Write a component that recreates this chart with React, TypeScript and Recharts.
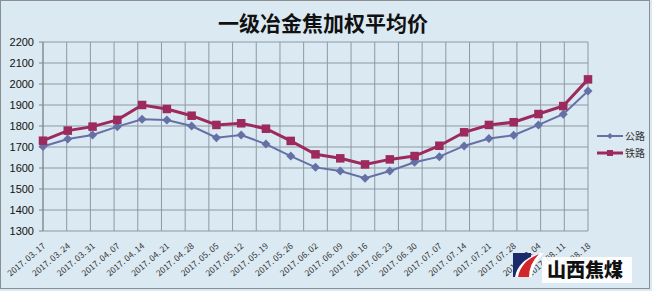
import React from 'react'
import { LineChart, Line, XAxis, YAxis, CartesianGrid } from 'recharts'

const categories = [
  '2017. 03. 17', '2017. 03. 24', '2017. 03. 31', '2017. 04. 07', '2017. 04. 14',
  '2017. 04. 21', '2017. 04. 28', '2017. 05. 05', '2017. 05. 12', '2017. 05. 19',
  '2017. 05. 26', '2017. 06. 02', '2017. 06. 09', '2017. 06. 16', '2017. 06. 23',
  '2017. 06. 30', '2017. 07. 07', '2017. 07. 14', '2017. 07. 21', '2017. 07. 28',
  '2017. 08. 04', '2017. 08. 11', '2017. 08. 18',
]

// 公路
const highway = [
  1702, 1738, 1757, 1797, 1832, 1829, 1800, 1744, 1757, 1714, 1657, 1603,
  1586, 1551, 1586, 1627, 1654, 1705, 1740, 1756, 1805, 1856, 1967,
]

// 铁路
const railway = [
  1730, 1778, 1797, 1829, 1900, 1881, 1849, 1805, 1813, 1787, 1729, 1665,
  1646, 1617, 1641, 1657, 1706, 1770, 1805, 1818, 1857, 1895, 2022,
]

const yTicks = [1300, 1400, 1500, 1600, 1700, 1800, 1900, 2000, 2100, 2200]

const legendItems = [
  { label: '公路', kind: 'diamond' },
  { label: '铁路', kind: 'square' },
]

const BLUE = '#6570a6'
const RED = '#9c2a5c'
const GRID = '#8d99a4'
const BG = '#dbe9f2'

const data = categories.map((name, i) => ({ name, highway: highway[i], railway: railway[i] }))

function Diamond(props: any) {
  const { cx, cy, index } = props
  if (cx == null || cy == null) return <g key={`d-${index}`} />
  const r = 4.5
  return (
    <path
      key={`d-${index}`}
      d={`M${cx},${cy - r} L${cx + r},${cy} L${cx},${cy + r} L${cx - r},${cy} Z`}
      fill={BLUE}
    />
  )
}

function Square(props: any) {
  const { cx, cy, index } = props
  if (cx == null || cy == null) return <g key={`s-${index}`} />
  const s = 8.5
  return <rect key={`s-${index}`} x={cx - s / 2} y={cy - s / 2} width={s} height={s} fill={RED} />
}

function DateTick(props: any) {
  const { x, y, payload } = props
  return (
    <g transform={`translate(${x + 3},${y + 8})`}>
      <text
        textAnchor="end"
        transform="rotate(-40)"
        fontSize={8.5}
        fill="#333"
        fontFamily="'Noto Sans CJK SC', 'DejaVu Sans', sans-serif"
      >
        {payload.value}
      </text>
    </g>
  )
}

function LegendBox() {
  return (
    <svg width={56} height={34} style={{ position: 'absolute', left: 596, top: 130, overflow: 'visible' }}>
      {legendItems.map((it, i) => {
        const y = 6 + i * 17
        const color = it.kind === 'square' ? RED : BLUE
        return (
          <g key={it.label}>
            <line x1={1} x2={27} y1={y} y2={y} stroke={color} strokeWidth={it.kind === 'square' ? 3 : 2} />
            {it.kind === 'diamond' ? (
              <path d={`M14,${y - 3} L17,${y} L14,${y + 3} L11,${y} Z`} fill={color} />
            ) : (
              <rect x={11} y={y - 3} width={6} height={6} fill={color} />
            )}
            <text x={29} y={y + 4} fontSize={10} fill="#333" fontFamily="'Noto Sans CJK SC', sans-serif">
              {it.label}
            </text>
          </g>
        )
      })}
    </svg>
  )
}

export default function App() {
  return (
    <div style={{ position: 'absolute', left: 0, top: 0, width: 652, height: 291, background: BG }}>
      <div
        style={{
          position: 'absolute', left: 0, top: 0, width: 648, height: 287,
          border: '1px solid #8a8f94', boxSizing: 'content-box',
        }}
      />
      <div
        style={{
          position: 'absolute', left: 0, top: 8, width: 646, textAlign: 'center',
          fontFamily: "'Noto Sans CJK SC', sans-serif", fontWeight: 700, fontSize: 21,
          lineHeight: '28px', color: '#111',
        }}
      >
        一级冶金焦加权平均价
      </div>
      <div style={{ position: 'absolute', left: 0, top: 0 }}>
        <LineChart width={652} height={291} data={data} margin={{ top: 42, right: 64, bottom: 0, left: 0 }}>
          <CartesianGrid
            stroke={GRID}
            strokeWidth={1}
            verticalCoordinatesGenerator={({ offset }: any) =>
              Array.from({ length: categories.length + 1 }, (_, i) => offset.left + (i * offset.width) / categories.length)
            }
          />
          <XAxis
            dataKey="name"
            interval={0}
            axisLine={false}
            tickLine={false}
            height={60}
            tick={<DateTick />}
          />
          <YAxis
            domain={[1300, 2200]}
            ticks={yTicks}
            width={43}
            tickSize={4}
            tickMargin={5}
            axisLine={{ stroke: '#7f8890' }}
            tickLine={{ stroke: '#7f8890' }}
            tick={{ fontSize: 11, fill: '#111', fontFamily: "'Liberation Sans', Arial, sans-serif" }}
            interval={0}
          />
          <Line
            type="linear"
            dataKey="highway"
            name="公路"
            stroke={BLUE}
            strokeWidth={2}
            dot={(p: any) => <Diamond {...p} />}
            isAnimationActive={false}
          />
          <Line
            type="linear"
            dataKey="railway"
            name="铁路"
            stroke={RED}
            strokeWidth={3}
            dot={(p: any) => <Square {...p} />}
            isAnimationActive={false}
          />
        </LineChart>
      </div>
      <LegendBox />
      <svg
        width={124}
        height={32}
        style={{ position: 'absolute', left: 510, top: 252 }}
      >
        <rect x={32} y={5} width={90} height={26} fill="#ffffff" opacity={0.9} />
        <rect x={3} y={1} width={18} height={24} fill="#1b2a6b" />
        <path d="M5,25 Q8,8 30,1 L34,1 Q22,12 22,25 Z" fill="#ffffff" />
        <path d="M8,25 Q11,9 29,2 Q19,12 19,25 Z" fill="#d3262b" />
        <text
          x={37}
          y={25}
          fontSize={19}
          fontWeight={900}
          fill="#111"
          fontFamily="'Noto Sans CJK SC', sans-serif"
        >
          山西焦煤
        </text>
      </svg>
    </div>
  )
}
